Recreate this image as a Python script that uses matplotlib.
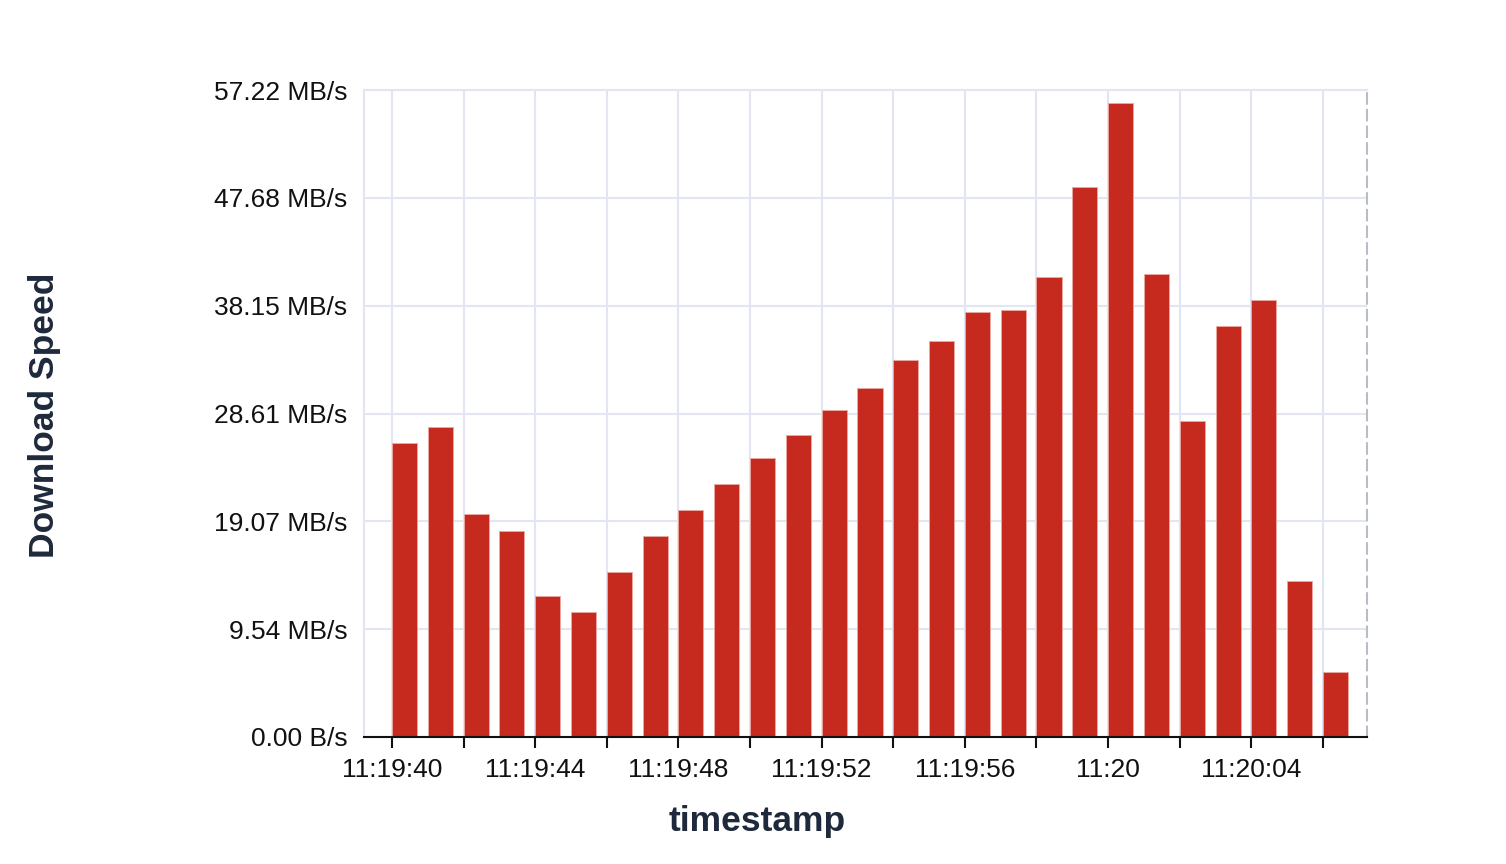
import matplotlib
matplotlib.use("Agg")
import matplotlib.pyplot as plt
import matplotlib.dates as mdates
import matplotlib.ticker as mticker
import pandas as pd

plt.rcParams['font.family'] = ['Liberation Sans', 'DejaVu Sans']

# Data
timestamps = [f"2024-01-01 11:19:{s:02d}" for s in range(40, 60)] + \
             [f"2024-01-01 11:20:{s:02d}" for s in range(0, 7)]
speed_mb = [27.29, 28.78, 20.65, 19.08, 13.08, 11.59, 15.30, 18.65, 21.06, 23.47,
            25.88, 28.01, 30.33, 32.37, 34.97, 36.73, 39.42, 39.61, 42.69, 51.03,
            58.82, 42.97, 29.31, 38.13, 40.50, 14.47, 6.06]
y_ticks_bytes = [0, 10e6, 20e6, 30e6, 40e6, 50e6, 60e6]

times = pd.to_datetime(timestamps)
values = [v * 1e6 for v in speed_mb]

W, H = 1506, 864
fig = plt.figure(figsize=(W/100, H/100), dpi=100)
ax = fig.add_axes([364/W, 1-737/H, (1367-364)/W, (737-90)/H])

sec = 1/86400
xnum = mdates.date2num(times)
ax.bar(xnum, values, width=0.7*sec, align='edge', color='#c62a1f',
       edgecolor='#eba9a3', linewidth=0.6, zorder=3)

ax.set_xlim(xnum[0] - 0.78*sec, xnum[0] + 27.23*sec)
ax.set_ylim(0, 60e6)

# y axis
ax.yaxis.set_major_locator(mticker.FixedLocator(y_ticks_bytes))
def yfmt(v, pos):
    if v == 0:
        return "0.00 B/s"
    return f"{v/1048576:.2f} MB/s"
ax.yaxis.set_major_formatter(mticker.FuncFormatter(yfmt))
ax.tick_params(axis='y', length=0, pad=12, labelsize=19, labelcolor='#111111')

# x axis
ax.xaxis.set_major_locator(mdates.SecondLocator(bysecond=range(0, 60, 2)))
def xfmt(v, pos):
    d = mdates.num2date(v)
    s = int(round(d.second + d.microsecond/1e6)) % 60
    if s % 4 != 0:
        return ""
    if s == 0:
        return d.strftime("%H:%M")
    return d.strftime("%H:%M:%S")
ax.xaxis.set_major_formatter(mticker.FuncFormatter(xfmt))
ax.tick_params(axis='x', length=8, width=1.5, color='#111111', pad=7,
               labelsize=19, labelcolor='#111111')

ax.grid(True, color='#e2e6f2', linewidth=1.5, zorder=0)
ax.set_axisbelow(True)

for side in ['top', 'left']:
    ax.spines[side].set_color('#e2e6f2')
    ax.spines[side].set_linewidth(1.5)
ax.spines['bottom'].set_color('#111111')
ax.spines['bottom'].set_linewidth(1.5)
ax.spines['bottom'].set_zorder(5)
ax.spines['right'].set_color('#b8bcc6')
ax.spines['right'].set_linestyle((0, (5, 3)))
ax.spines['right'].set_linewidth(1.5)

fig.text(757/W, 1-821/H, "timestamp", fontsize=25.5, fontweight='bold',
         color='#1e293b', ha='center', va='center')
fig.text(45/W, 1-415/H, "Download Speed", fontsize=25.5, fontweight='bold',
         color='#1e293b', ha='center', va='center', rotation=90)

fig.savefig("out.png", dpi=100, facecolor='white')
